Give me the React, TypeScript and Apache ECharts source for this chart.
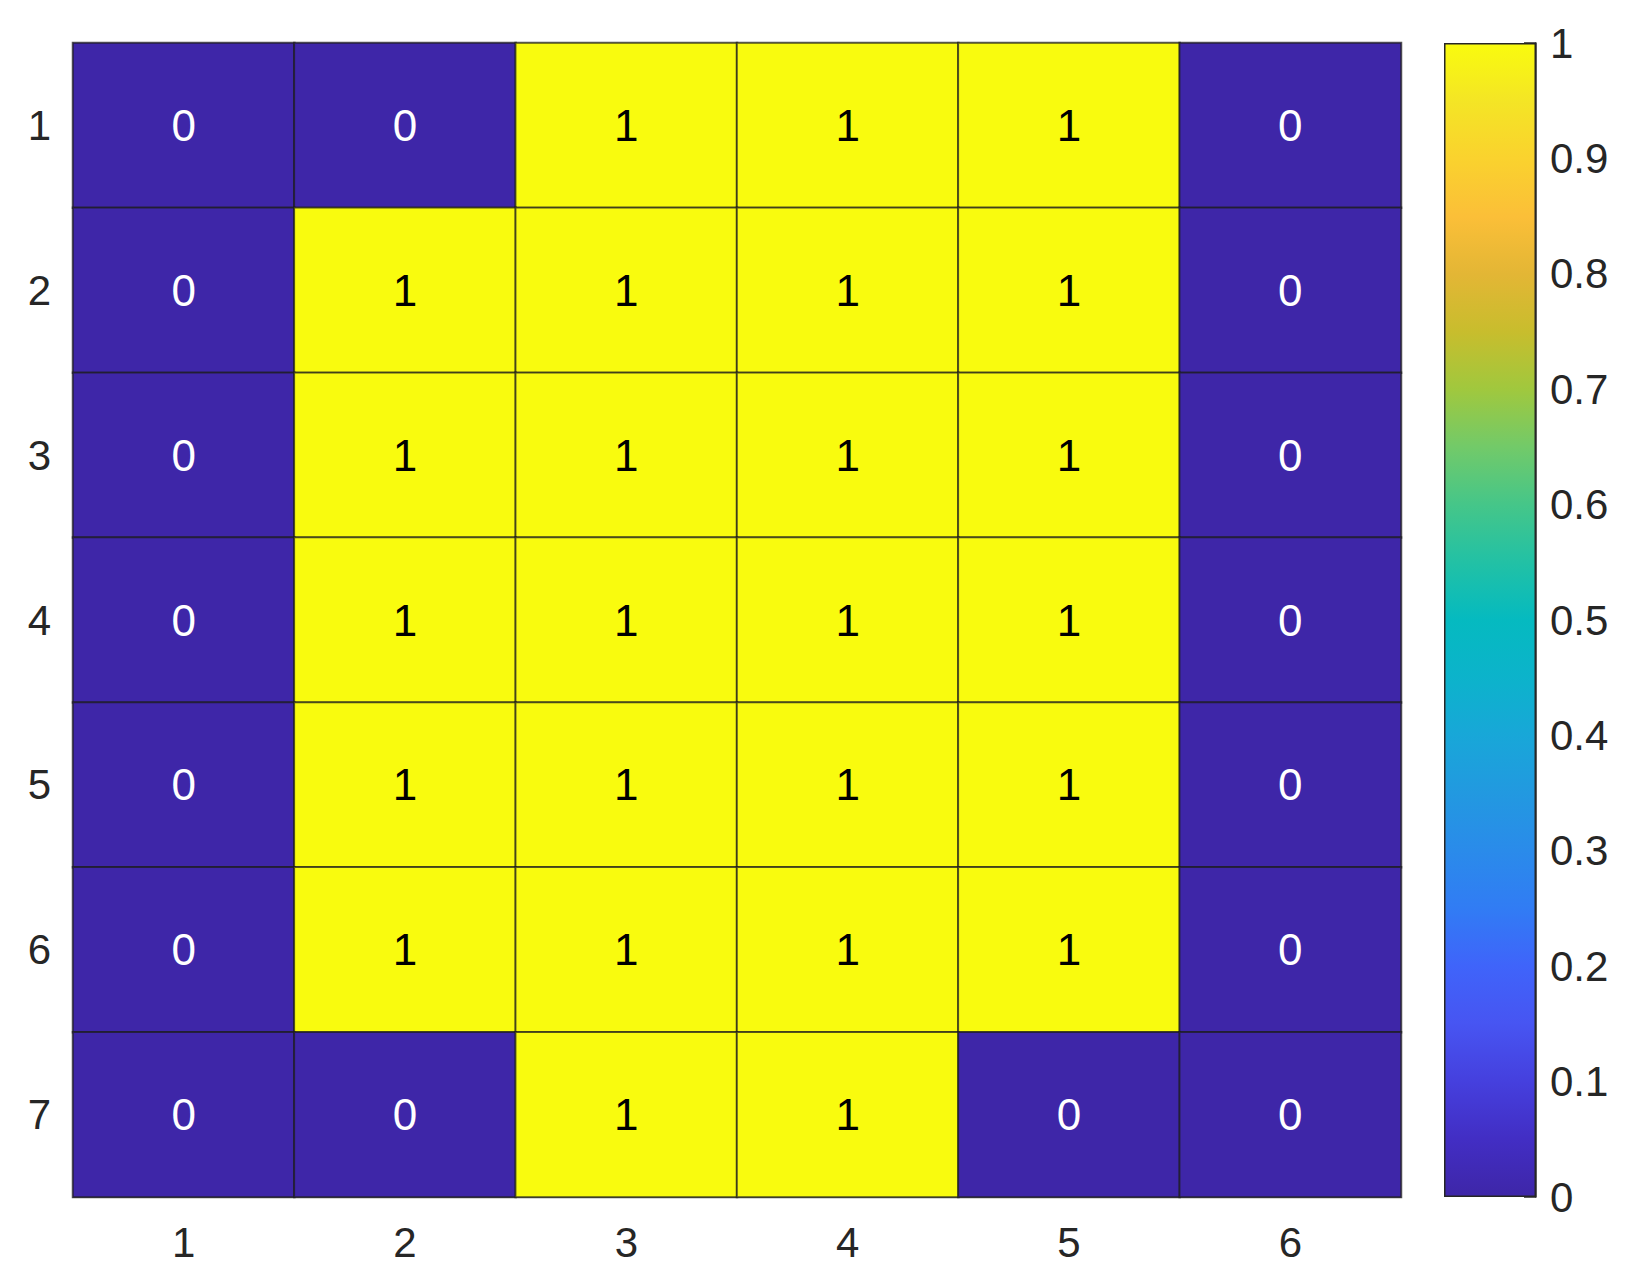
import React, { useEffect, useRef } from "react";
import * as echarts from "echarts";

const xCategories = ["1", "2", "3", "4", "5", "6"];
const yCategories = ["1", "2", "3", "4", "5", "6", "7"];
const matrix: number[][] = [
  [0, 0, 1, 1, 1, 0],
  [0, 1, 1, 1, 1, 0],
  [0, 1, 1, 1, 1, 0],
  [0, 1, 1, 1, 1, 0],
  [0, 1, 1, 1, 1, 0],
  [0, 1, 1, 1, 1, 0],
  [0, 0, 1, 1, 0, 0],
];
const colorbarMin = 0;
const colorbarMax = 1;
const colorbarInterval = 0.1;
const parulaStops: [number, string][] = [
  [0, "#3E26A8"],
  [0.05, "#422EC4"],
  [0.1, "#4540DE"],
  [0.15, "#4755F2"],
  [0.2, "#3F64FA"],
  [0.25, "#317CF4"],
  [0.3, "#2A8BEA"],
  [0.35, "#2299E0"],
  [0.4, "#18A7D8"],
  [0.45, "#0CB3CB"],
  [0.5, "#05BAC0"],
  [0.55, "#22C1A5"],
  [0.6, "#45C689"],
  [0.65, "#72CA69"],
  [0.7, "#A0C83E"],
  [0.75, "#C8BD2D"],
  [0.8, "#E3B635"],
  [0.85, "#FBBF38"],
  [0.9, "#FAD22E"],
  [0.95, "#F4E525"],
  [1, "#F9FB0E"],
];

const FONT = "'Liberation Sans', Arial, Helvetica, sans-serif";
const TEXT = "#262626";

export default function App() {
  const ref = useRef<HTMLDivElement>(null);
  useEffect(() => {
    if (!ref.current) return;
    const chart = echarts.init(ref.current, undefined, { renderer: "svg" });
    const data: any[] = [];
    matrix.forEach((row, yi) => {
      row.forEach((v, xi) => {
        data.push({
          value: [xi, yi, v],
          label: { color: v > 0.5 ? "#000000" : "#ffffff" },
        });
      });
    });
    chart.setOption({
      animation: false,
      backgroundColor: "#ffffff",
      textStyle: { fontFamily: FONT },
      grid: [
        { left: 73, top: 43, width: 1328, height: 1154 },
        { left: 1444, top: 43, width: 92, height: 1154 },
      ],
      xAxis: [
        {
          type: "category",
          gridIndex: 0,
          data: xCategories,
          axisLine: { show: true, lineStyle: { color: "#7f7f7f", width: 1 } },
          axisTick: { show: false },
          axisLabel: { color: TEXT, fontSize: 42, margin: 24, fontFamily: FONT },
          splitLine: { show: false },
        },
        {
          type: "category",
          gridIndex: 1,
          data: [""],
          axisLine: { show: false },
          axisTick: { show: false },
          axisLabel: { show: false },
        },
      ],
      yAxis: [
        {
          type: "category",
          gridIndex: 0,
          data: yCategories,
          inverse: true,
          axisLine: { show: true, lineStyle: { color: "#7f7f7f", width: 1 } },
          axisTick: { show: false },
          axisLabel: { color: TEXT, fontSize: 42, margin: 22, fontFamily: FONT },
          splitLine: { show: false },
        },
        {
          type: "value",
          gridIndex: 1,
          position: "right",
          min: colorbarMin,
          max: colorbarMax,
          interval: colorbarInterval,
          axisLine: { show: true, lineStyle: { color: TEXT, width: 1.5 } },
          axisTick: {
            show: true,
            inside: true,
            length: 12,
            lineStyle: { color: TEXT, width: 1.5 },
          },
          axisLabel: {
            color: TEXT,
            fontSize: 42,
            margin: 14,
            fontFamily: FONT,
            formatter: (v: number) => String(Math.round(v * 10) / 10),
          },
          splitLine: { show: false },
        },
      ],
      visualMap: {
        show: false,
        type: "continuous",
        min: colorbarMin,
        max: colorbarMax,
        seriesIndex: 0,
        dimension: 2,
        inRange: { color: parulaStops.map((s) => s[1]) },
      },
      series: [
        {
          type: "heatmap",
          xAxisIndex: 0,
          yAxisIndex: 0,
          data,
          label: {
            show: true,
            fontSize: 44,
            fontFamily: FONT,
            formatter: (p: any) => String(p.value[2]),
          },
          itemStyle: { borderColor: "rgba(30,30,30,0.75)", borderWidth: 2 },
          emphasis: { disabled: true },
        },
        {
          type: "bar",
          xAxisIndex: 1,
          yAxisIndex: 1,
          data: [colorbarMax],
          barWidth: "100%",
          silent: true,
          itemStyle: {
            color: new echarts.graphic.LinearGradient(
              0,
              1,
              0,
              0,
              parulaStops.map((s) => ({ offset: s[0], color: s[1] }))
            ),
            borderColor: TEXT,
            borderWidth: 1.5,
          },
        },
      ],
    });
    return () => chart.dispose();
  }, []);
  return (
    <div
      ref={ref}
      style={{ position: "fixed", left: 0, top: 0, width: 1640, height: 1286 }}
    />
  );
}
